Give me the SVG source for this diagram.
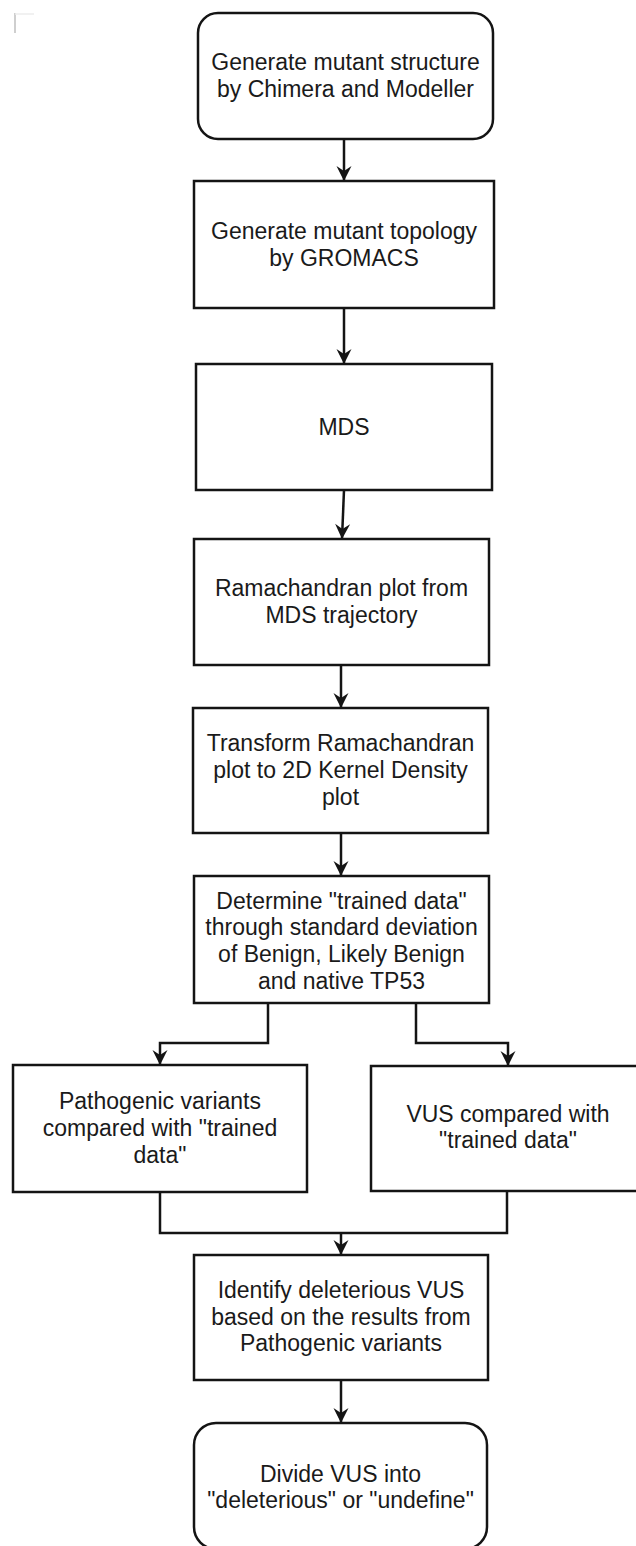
<svg xmlns="http://www.w3.org/2000/svg" width="636" height="1546" viewBox="0 0 636 1546">
  <style>
    .box { fill: #ffffff; stroke: #141414; stroke-width: 2.5; }
    .lbl { font-family: "Liberation Sans", Arial, sans-serif; font-size: 23px; fill: #1a1a1a; text-anchor: middle; }
    .conn { fill: none; stroke: #141414; stroke-width: 2.5; stroke-linejoin: miter; }
  </style>
  <defs>
    <marker id="arrow" markerUnits="userSpaceOnUse" markerWidth="20" markerHeight="20" viewBox="-16 -10 20 20" refX="0" refY="0" orient="auto">
      <path d="M0,0 L-15,-7.5 L-10,0 L-15,7.5 Z" fill="#141414"/>
    </marker>
  </defs>
  <rect x="0" y="0" width="636" height="1546" fill="#ffffff"/>

  <g id="corner-mark">
    <path d="M15,13 L15,33" stroke="#cfcfcf" stroke-width="2" fill="none"/>
    <path d="M15,14 L34,14" stroke="#ececec" stroke-width="1.5" fill="none"/>
  </g>

  <g id="connectors">
    <path class="conn" d="M344,139 L344,181" marker-end="url(#arrow)"/>
    <path class="conn" d="M344,308 L344,364" marker-end="url(#arrow)"/>
    <path class="conn" d="M344,490 L342,539" marker-end="url(#arrow)"/>
    <path class="conn" d="M341,665 L341,708" marker-end="url(#arrow)"/>
    <path class="conn" d="M341,833 L341,876" marker-end="url(#arrow)"/>
    <path class="conn" d="M268,1003 L268,1043 L160,1043 L160,1065" marker-end="url(#arrow)"/>
    <path class="conn" d="M416,1003 L416,1043 L508,1043 L508,1066" marker-end="url(#arrow)"/>
    <path class="conn" d="M160,1192 L160,1233 L507,1233 L507,1191"/>
    <path class="conn" d="M341,1233 L341,1255" marker-end="url(#arrow)"/>
    <path class="conn" d="M341,1380 L341,1423" marker-end="url(#arrow)"/>
  </g>

  <g id="node-generate-structure">
    <rect class="box" x="198" y="13" width="295" height="126" rx="20" ry="20"/>
    <text class="lbl"><tspan x="345.5" y="70.2">Generate mutant structure</tspan><tspan x="345.5" y="96.9">by Chimera and Modeller</tspan></text>
  </g>

  <g id="node-generate-topology">
    <rect class="box" x="194" y="181" width="300" height="127"/>
    <text class="lbl"><tspan x="344" y="239.2">Generate mutant topology</tspan><tspan x="344" y="265.8">by GROMACS</tspan></text>
  </g>

  <g id="node-mds">
    <rect class="box" x="196" y="364" width="296" height="126"/>
    <text class="lbl"><tspan x="344" y="434.5">MDS</tspan></text>
  </g>

  <g id="node-ramachandran">
    <rect class="box" x="194" y="539" width="295" height="126"/>
    <text class="lbl"><tspan x="341.5" y="596.2">Ramachandran plot from</tspan><tspan x="341.5" y="622.8">MDS trajectory</tspan></text>
  </g>

  <g id="node-transform">
    <rect class="box" x="193" y="708" width="295" height="125"/>
    <text class="lbl"><tspan x="340.5" y="751.3">Transform Ramachandran</tspan><tspan x="340.5" y="778">plot to 2D Kernel Density</tspan><tspan x="340.5" y="804.7">plot</tspan></text>
  </g>

  <g id="node-determine">
    <rect class="box" x="194" y="876" width="295" height="127"/>
    <text class="lbl"><tspan x="341.5" y="908.5">Determine "trained data"</tspan><tspan x="341.5" y="935.2">through standard deviation</tspan><tspan x="341.5" y="961.9">of Benign, Likely Benign</tspan><tspan x="341.5" y="988.6">and native TP53</tspan></text>
  </g>

  <g id="node-pathogenic">
    <rect class="box" x="13" y="1065" width="294" height="127"/>
    <text class="lbl"><tspan x="160" y="1109.3">Pathogenic variants</tspan><tspan x="160" y="1136">compared with "trained</tspan><tspan x="160" y="1162.7">data"</tspan></text>
  </g>

  <g id="node-vus">
    <rect class="box" x="371" y="1066" width="274" height="125"/>
    <text class="lbl"><tspan x="508" y="1121.7">VUS compared with</tspan><tspan x="508" y="1148.3">"trained data"</tspan></text>
  </g>

  <g id="node-identify">
    <rect class="box" x="194" y="1255" width="294" height="125"/>
    <text class="lbl"><tspan x="341" y="1297.8">Identify deleterious VUS</tspan><tspan x="341" y="1324.5">based on the results from</tspan><tspan x="341" y="1351.2">Pathogenic variants</tspan></text>
  </g>

  <g id="node-divide">
    <rect class="box" x="194" y="1423" width="293" height="126" rx="22" ry="22"/>
    <text class="lbl"><tspan x="340.5" y="1481.7">Divide VUS into</tspan><tspan x="340.5" y="1508.3">"deleterious" or "undefine"</tspan></text>
  </g>
</svg>
